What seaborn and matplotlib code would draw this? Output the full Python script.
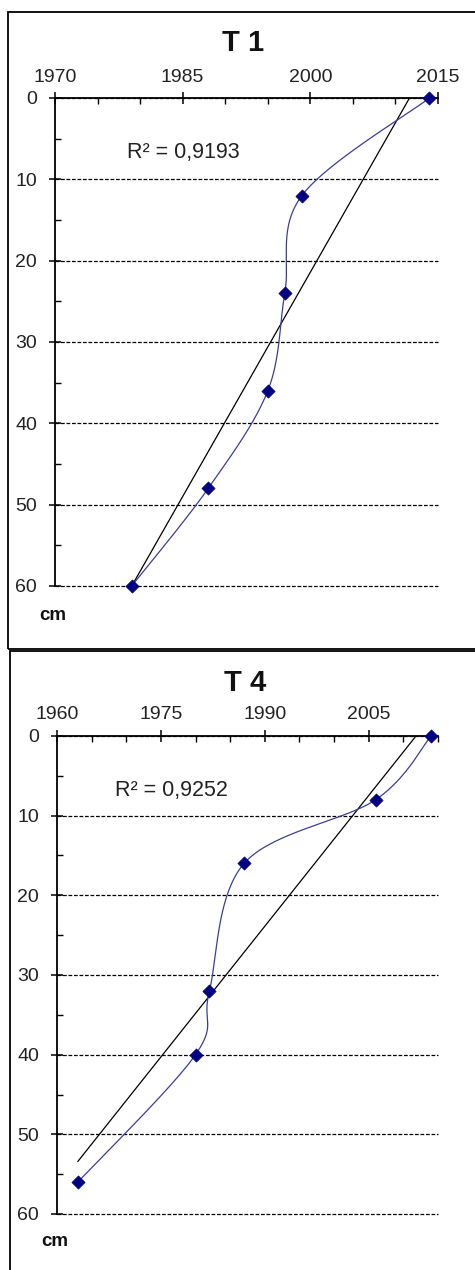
import numpy as np
import matplotlib
matplotlib.use("Agg")
import matplotlib.pyplot as plt
from matplotlib.patches import Rectangle
from matplotlib.ticker import MultipleLocator, FixedLocator
import seaborn as sns

# ---- data ----
t1_years = [2014, 1999, 1997, 1995, 1988, 1979]
t1_depths = [0, 12, 24, 36, 48, 60]
t1_r2 = "R² = 0,9193"
t1_xticks = [1970, 1985, 2000, 2015]

t4_years = [2014, 2006, 1987, 1982, 1980, 1963]
t4_depths = [0, 8, 16, 32, 40, 56]
t4_r2 = "R² = 0,9252"
t4_xticks = [1960, 1975, 1990, 2005]

y_ticks = [0, 10, 20, 30, 40, 50, 60]

sns.set_theme(style="ticks")
plt.rcParams['font.family'] = ['Liberation Sans', 'DejaVu Sans']

W, H = 475, 1270
fig = plt.figure(figsize=(W / 100, H / 100), dpi=100)
fig.patch.set_facecolor('white')

LINE_COL = '#3c3c9c'
MARK_COL = '#000080'


def excel_smooth(ax, xs, ys, n=40):
    P = ax.transData.transform(np.column_stack([xs, ys]).astype(float))
    out = []
    for i in range(len(P) - 1):
        p0 = P[i - 1] if i > 0 else P[i]
        p1 = P[i]
        p2 = P[i + 1]
        p3 = P[i + 2] if i + 2 < len(P) else P[i + 1]
        c1 = p1 + (p2 - p0) / 6.0
        c2 = p2 - (p3 - p1) / 6.0
        t = np.linspace(0, 1, n)[:, None]
        seg = (1 - t) ** 3 * p1 + 3 * (1 - t) ** 2 * t * c1 + 3 * (1 - t) * t ** 2 * c2 + t ** 3 * p2
        out.append(seg if i == 0 else seg[1:])
    return ax.transData.inverted().transform(np.vstack(out))


def panel(rect_px, years, depths, xticks, xlim, r2, r2_pos, title, title_px, cm_px, box_px):
    l, r, top, bot = rect_px
    ax = fig.add_axes([l / W, 1 - bot / H, (r - l) / W, (bot - top) / H])
    ax.set_facecolor('white')
    ax.set_xlim(*xlim)
    ax.set_ylim(60, 0)

    ax.yaxis.grid(True, linestyle=(0, (3, 1.4)), color='black', linewidth=0.9)
    ax.xaxis.grid(False)
    ax.set_axisbelow(True)

    # trendline (linear regression)
    sns.regplot(x=np.array(years, float), y=np.array(depths, float), ax=ax, scatter=False,
                ci=None, truncate=True, line_kws=dict(color='black', linewidth=0.9, zorder=3))
    ax.set_xlim(*xlim)
    ax.set_ylim(60, 0)

    # smoothed line
    pts = excel_smooth(ax, years, depths)
    sns.lineplot(x=pts[:, 0], y=pts[:, 1], sort=False, estimator=None, ax=ax,
                 color=LINE_COL, linewidth=0.9, zorder=4)
    sns.scatterplot(x=years, y=depths, ax=ax, marker='D', s=45, color=MARK_COL,
                    edgecolor=MARK_COL, linewidth=0.5, zorder=6, clip_on=False)

    ax.set_xlim(*xlim)
    ax.set_ylim(60, 0)
    ax.set_xlabel('')
    ax.set_ylabel('')

    for s in ['right', 'bottom']:
        ax.spines[s].set_visible(False)
    for s in ['top', 'left']:
        ax.spines[s].set_color('black')
        ax.spines[s].set_linewidth(1.3)

    ax.xaxis.set_ticks_position('top')
    ax.xaxis.set_label_position('top')
    ax.xaxis.set_major_locator(FixedLocator(xticks))
    ax.xaxis.set_minor_locator(MultipleLocator(5))
    ax.set_xticklabels([str(v) for v in xticks])
    ax.yaxis.set_major_locator(FixedLocator(y_ticks))
    ax.yaxis.set_minor_locator(MultipleLocator(5))
    ax.set_yticklabels([str(v) for v in y_ticks])

    ax.tick_params(axis='both', which='major', direction='inout', length=8, width=1.1,
                   color='black', labelsize=14, labelcolor='#222222')
    ax.tick_params(axis='x', which='major', pad=5)
    ax.tick_params(axis='y', which='major', pad=9)
    ax.tick_params(axis='both', which='minor', direction='in', length=4, width=1.0, color='black')
    for gl in ax.yaxis.get_gridlines():
        gl.set_clip_on(False)

    ax.text(r2_pos[0], r2_pos[1], r2, transform=ax.transAxes, fontsize=15.5,
            ha='left', va='center', color='#222222')

    fig.text(title_px[0] / W, 1 - title_px[1] / H, title, ha='center', va='center',
             fontsize=21, fontweight='bold', color='#111111')
    fig.text(cm_px[0] / W, 1 - cm_px[1] / H, 'cm', ha='center', va='center',
             fontsize=13.5, fontweight='bold', color='#111111')

    bx0, by0, bx1, by1 = box_px
    fig.add_artist(Rectangle((bx0 / W, 1 - by1 / H), (bx1 - bx0) / W, (by1 - by0) / H,
                             transform=fig.transFigure, fill=False, edgecolor='black',
                             linewidth=1.3, zorder=0))
    return ax


panel((55, 438, 98, 586), t1_years, t1_depths, t1_xticks, (1970, 2015), t1_r2, (0.188, 0.889),
      'T 1', (243, 43), (53, 615), (7.5, 11.5, 500, 649))
panel((57, 438, 736, 1214), t4_years, t4_depths, t4_xticks, (1960, 2015), t4_r2, (0.152, 0.885),
      'T 4', (245, 683), (55, 1242), (9.5, 651, 500, 1300))

fig.savefig('out.png', dpi=100, facecolor='white')
